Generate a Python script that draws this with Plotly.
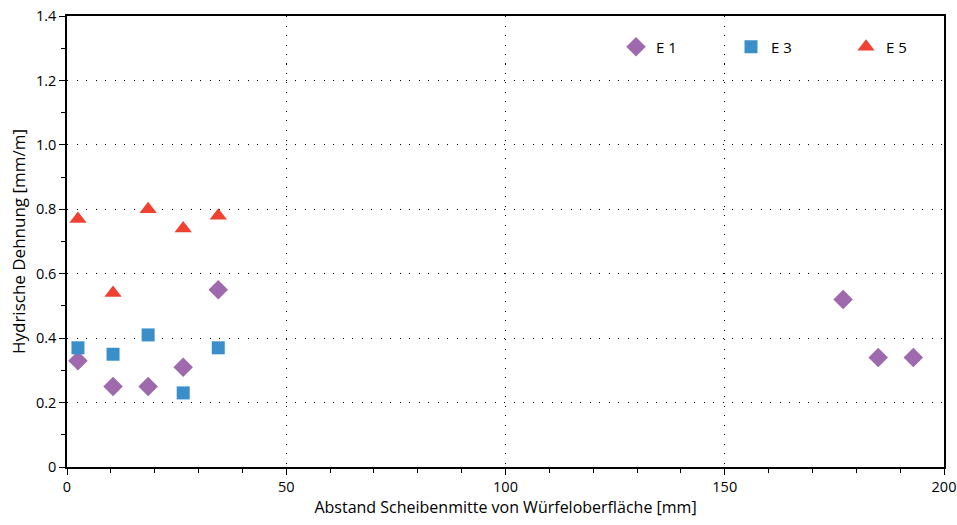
import plotly.graph_objects as go

x_e1 = [2.5, 10.5, 18.5, 26.5, 34.5, 177, 185, 193]
y_e1 = [0.33, 0.25, 0.25, 0.31, 0.55, 0.52, 0.34, 0.34]
x_e3 = [2.5, 10.5, 18.5, 26.5, 34.5]
y_e3 = [0.37, 0.35, 0.41, 0.23, 0.37]
x_e5 = [2.5, 10.5, 18.5, 26.5, 34.5]
y_e5 = [0.77, 0.54, 0.80, 0.74, 0.78]

y_ticks = [0, 0.2, 0.4, 0.6, 0.8, 1.0, 1.2, 1.4]
y_ticktext = ["0", "0.2", "0.4", "0.6", "0.8", "1.0", "1.2", "1.4"]
x_ticks = [0, 50, 100, 150, 200]

FONT = "Open Sans"

fig = go.Figure()
fig.add_trace(go.Scatter(x=x_e1, y=y_e1, mode="markers", name="E 1",
                         marker=dict(symbol="diamond", size=15, color="#9e69ad")))
fig.add_trace(go.Scatter(x=x_e3, y=y_e3, mode="markers", name="E 3",
                         marker=dict(symbol="square", size=13, color="#3a8fcb")))
fig.add_trace(go.Scatter(x=x_e5, y=y_e5, mode="markers", name="E 5",
                         marker=dict(symbol="triangle-up", size=15, color="#ef4130")))

axis_common = dict(
    showline=True, linecolor="black", linewidth=1.5, mirror=True,
    ticks="outside", ticklen=6, tickwidth=1.2, tickcolor="black",
    showgrid=True, gridcolor="black", gridwidth=1, griddash="1px,8.5px",
    zeroline=False, tickfont=dict(family=FONT, size=14.5, color="black"),
)

fig.update_xaxes(range=[0, 200], tickvals=x_ticks,
                 minor=dict(dtick=10, ticks="outside", ticklen=4, tickcolor="black", showgrid=False),
                 title=dict(text="Abstand Scheibenmitte von Würfeloberfläche [mm]",
                            font=dict(family=FONT, size=16, color="black"), standoff=4),
                 **axis_common)
fig.update_yaxes(range=[0, 1.4], tickvals=y_ticks, ticktext=y_ticktext,
                 minor=dict(dtick=0.1, ticks="outside", ticklen=4, tickcolor="black", showgrid=False),
                 title=dict(text="Hydrische Dehnung [mm/m]",
                            font=dict(family=FONT, size=17, color="black"), standoff=6),
                 **axis_common)

fig.update_layout(
    width=957, height=525,
    margin=dict(l=67, r=13, t=16, b=58, autoexpand=False),
    plot_bgcolor="white", paper_bgcolor="white",
    legend=dict(orientation="h", x=0.626, y=0.931, xanchor="left", yanchor="middle",
                entrywidth=70, entrywidthmode="pixels",
                font=dict(family=FONT, size=15, color="black"),
                bgcolor="rgba(0,0,0,0)"),
)

# remove the default 8px page margin so the figure fills the window exactly
fig.write_html("out.html", config={"displayModeBar": False},
               post_script="document.body.style.margin='0';document.body.style.overflow='hidden';")
